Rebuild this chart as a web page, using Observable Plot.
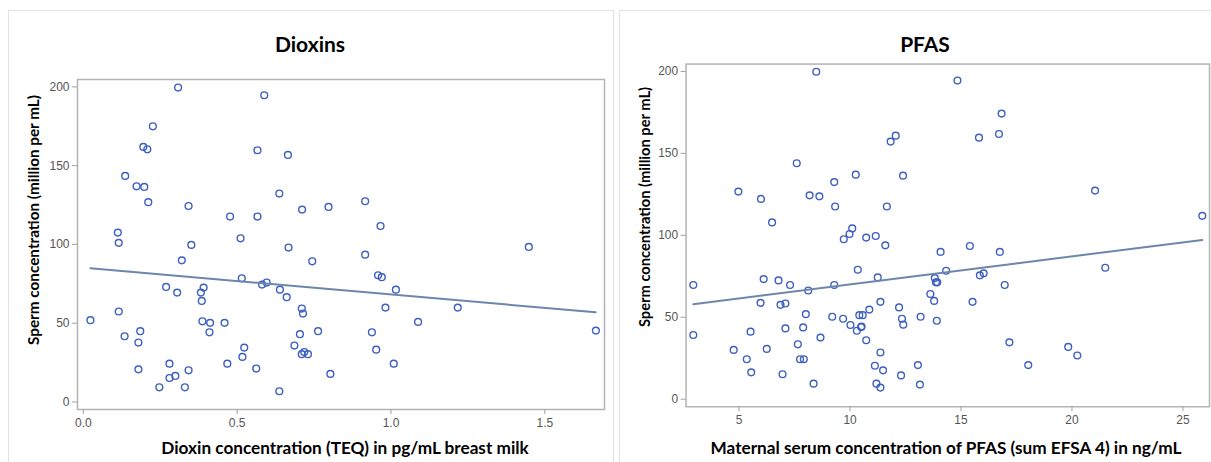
<!DOCTYPE html>
<html>
<head>
<meta charset="utf-8">
<script src="https://cdn.jsdelivr.net/npm/d3@7"></script>
<script src="https://cdn.jsdelivr.net/npm/@observablehq/plot@0.6"></script>
<style>
  html, body { margin: 0; padding: 0; background: #fff; }
  body { width: 1211px; height: 462px; overflow: hidden; position: relative; font-family: Lato, "Open Sans", sans-serif; }
  .panel { position: absolute; border: 1px solid #e2e2e2; box-sizing: border-box; }
  .abs { position: absolute; }
  .title { position: absolute; font-weight: bold; font-size: 21px; color: #000; transform: translate(-50%, -50%); white-space: nowrap; }
  .xlab { position: absolute; font-weight: bold; font-size: 17.2px; color: #000; transform: translate(-50%, -50%); white-space: nowrap; }
  .ylab { position: absolute; font-weight: bold; color: #000; transform: translate(-50%, -50%) rotate(-90deg); white-space: nowrap; }
</style>
</head>
<body>
<div class="panel" style="left:8px; top:10px; width:606px; height:470px;"></div>
<div class="panel" style="left:619px; top:10px; width:610px; height:470px;"></div>
<div id="left" class="abs" style="left:0; top:0;"></div>
<div id="right" class="abs" style="left:619px; top:0;"></div>
<div class="title" style="left:310px; top:43px;">Dioxins</div>
<div class="title" style="left:925px; top:43px;">PFAS</div>
<div class="xlab" style="left:345px; top:447px;">Dioxin concentration (TEQ) in pg/mL breast milk</div>
<div class="xlab" style="left:946px; top:447px;">Maternal serum concentration of PFAS (sum EFSA 4) in ng/mL</div>
<div class="ylab" style="left:33px; top:220px; font-size:15.3px;">Sperm concentration (million per mL)</div>
<div class="ylab" style="left:644px; top:207px; font-size:14.7px;">Sperm concentration (million per mL)</div>
<script>
// Dioxins panel data
const dioxinX = [0.308,0.588,0.226,0.195,0.208,0.566,0.665,0.136,0.173,0.198,0.637,0.211,0.916,0.342,0.797,0.711,0.477,0.566,0.966,0.112,0.115,0.511,0.351,0.667,1.448,0.320,0.744,0.916,0.958,0.970,0.515,0.596,0.581,0.269,0.391,0.639,1.016,0.305,0.382,0.661,0.385,0.710,0.714,0.982,1.217,0.115,0.023,0.387,0.412,0.459,1.088,0.185,0.410,0.763,0.938,1.666,0.704,0.134,0.179,0.686,0.523,0.952,0.718,0.710,0.730,0.517,0.280,0.468,1.009,0.179,0.562,0.342,0.803,0.299,0.280,0.247,0.330,0.637];
const dioxinY = [199.6,194.7,175.0,161.9,160.4,159.8,156.8,143.5,136.9,136.5,132.3,126.8,127.4,124.4,123.8,122.1,117.7,117.7,111.7,107.5,101.0,103.9,99.7,98.0,98.4,89.9,89.3,93.5,80.4,79.2,78.5,75.8,74.5,73.0,72.6,71.3,71.3,69.4,69.4,66.5,64.1,59.3,56.1,59.9,59.9,57.4,51.9,51.2,50.2,50.2,50.8,44.9,44.2,44.9,44.2,45.3,43.0,41.7,37.7,35.8,34.5,33.2,31.7,30.3,30.3,28.6,24.3,24.3,24.3,20.7,21.2,20.1,17.8,16.5,15.2,9.3,9.3,6.8];
const dioxinFitX = [0.023, 1.665];
const dioxinFitY = [84.9, 56.9];

// PFAS panel data
const pfasX = [8.48,14.84,16.83,16.71,15.81,12.06,11.83,7.60,10.26,12.39,9.29,4.97,21.04,8.18,8.62,5.99,9.33,11.66,6.49,25.87,10.10,9.98,9.72,10.73,11.16,11.59,15.40,14.08,16.75,21.50,10.35,14.33,16.02,15.85,11.25,13.82,13.87,13.93,6.11,6.78,2.94,7.30,9.29,16.97,8.12,13.62,5.97,6.87,7.09,11.37,13.79,15.52,12.21,10.87,10.42,10.57,8.01,9.20,13.18,9.69,12.34,13.91,12.40,10.02,10.50,10.52,7.09,7.89,10.31,5.52,2.94,8.67,10.73,17.18,7.65,19.83,4.76,6.25,11.37,20.24,5.35,7.75,7.92,11.12,13.06,18.03,11.49,5.55,6.96,12.30,8.36,11.19,13.15,11.37];
const pfasY = [199.8,194.5,174.3,161.8,159.6,160.8,157.2,144.0,137.0,136.4,132.5,126.7,127.3,124.4,123.8,122.2,117.6,117.6,107.9,111.9,104.2,100.8,97.6,98.6,99.6,93.9,93.5,89.9,89.9,80.2,79.0,78.4,76.8,75.6,74.3,73.9,71.3,71.3,73.3,72.5,69.7,69.7,69.7,69.7,66.3,64.2,58.8,57.6,58.4,59.4,60.0,59.4,56.0,54.7,51.3,51.3,51.9,50.3,50.3,49.1,49.1,47.9,45.5,45.3,44.0,44.3,43.2,43.8,41.8,41.2,39.2,37.6,36.0,34.7,33.5,31.9,30.1,30.7,28.5,26.7,24.4,24.4,24.4,20.4,20.8,20.8,17.6,16.4,15.2,14.5,9.5,9.5,8.9,7.1];
const pfasFitX = [2.94, 25.87];
const pfasFitY = [58.0, 97.2];

const yTicks = [0, 50, 100, 150, 200];
const dioxinTicks = [0, 0.5, 1.0, 1.5];
const pfasTicks = [5, 10, 15, 20, 25];

const pts = (xs, ys) => xs.map((x, i) => ({x, y: ys[i]}));

const dotColor = "#3d5fc0";
const lineColor = "#6d86ab";
const styleObj = {fontFamily: "'Liberation Sans', Arial, sans-serif", fontSize: "12px", color: "#555", background: "transparent"};

function panel({width, marginLeft, marginRight, marginTop, xDomain, yDomain, xTicks, xFormat, xs, ys, fx, fy}) {
  return Plot.plot({
    width, height: 462,
    marginLeft, marginRight, marginTop, marginBottom: 53,
    style: styleObj,
    x: {domain: xDomain},
    y: {domain: yDomain},
    marks: [
      Plot.frame({stroke: "#b3b3b3", strokeWidth: 1.5}),
      Plot.axisX({ticks: xTicks, tickFormat: xFormat, tickSize: 5, tickPadding: 4, label: null, stroke: "#a0a0a0", fill: "#555"}),
      Plot.axisY({ticks: yTicks, tickSize: 5, tickPadding: 3, label: null, stroke: "#a0a0a0", fill: "#555"}),
      Plot.dot(pts(xs, ys), {x: "x", y: "y", r: 3.4, stroke: dotColor, strokeWidth: 1.4, fill: "none"}),
      Plot.line(pts(fx, fy), {x: "x", y: "y", stroke: lineColor, strokeWidth: 2})
    ]
  });
}

document.getElementById("left").append(panel({
  width: 610, marginLeft: 77, marginRight: 6, marginTop: 79,
  xDomain: [-0.019, 1.694], yDomain: [-4.8, 204.7],
  xTicks: dioxinTicks, xFormat: d3.format(".1f"),
  xs: dioxinX, ys: dioxinY, fx: dioxinFitX, fy: dioxinFitY
}));

document.getElementById("right").append(panel({
  width: 596, marginLeft: 67, marginRight: 2, marginTop: 64,
  xDomain: [2.614, 26.195], yDomain: [-4.6, 204.5],
  xTicks: pfasTicks, xFormat: d3.format("d"),
  xs: pfasX, ys: pfasY, fx: pfasFitX, fy: pfasFitY
}));
</script>
</body>
</html>
